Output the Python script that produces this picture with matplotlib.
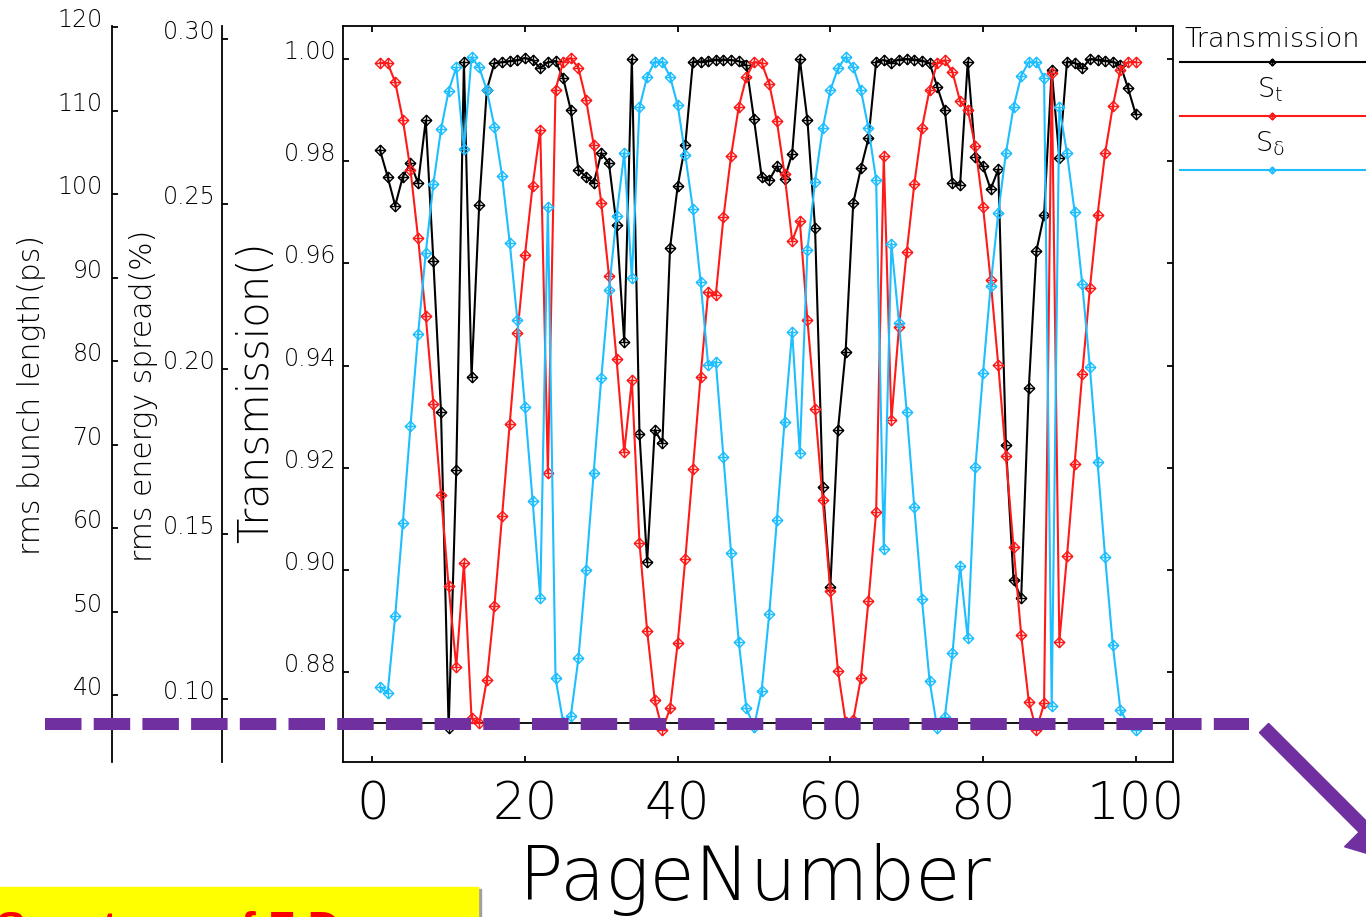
import numpy as np
import matplotlib
matplotlib.use("Agg")
import matplotlib.pyplot as plt
from matplotlib.path import Path
from matplotlib.lines import Line2D
from matplotlib.patches import Rectangle, FancyArrow
from matplotlib.ticker import FixedLocator, FormatStrFormatter
from matplotlib.transforms import IdentityTransform

# ---------------- data ----------------
page = list(range(1, 101))

transmission = [
    0.9822, 0.9770, 0.9713, 0.9770, 0.9796, 0.9757, 0.9880, 0.9605, 0.9310, 0.8690,
    0.9196, 0.9995, 0.9378, 0.9714, 0.9940, 0.9992, 0.9994, 0.9996, 0.9998, 1.0002,
    0.9998, 0.9982, 0.9994, 0.9996, 0.9963, 0.9900, 0.9783, 0.9770, 0.9757, 0.9816,
    0.9796, 0.9675, 0.9447, 1.0000, 0.9266, 0.9016, 0.9274, 0.9248, 0.9630, 0.9751,
    0.9832, 0.9995, 0.9995, 0.9997, 0.9999, 0.9999, 0.9998, 0.9996, 0.9988, 0.9882,
    0.9770, 0.9763, 0.9790, 0.9765, 0.9815, 1.0000, 0.9880, 0.9669, 0.9163, 0.8967,
    0.9274, 0.9427, 0.9718, 0.9786, 0.9845, 0.9995, 0.9998, 0.9993, 0.9999, 1.0000,
    0.9999, 0.9997, 0.9992, 0.9946, 0.9900, 0.9758, 0.9753, 0.9995, 0.9809, 0.9790,
    0.9745, 0.9784, 0.9245, 0.8980, 0.8945, 0.9356, 0.9625, 0.9695, 0.9978, 0.9806,
    0.9995, 0.9993, 0.9982, 1.0000, 0.9999, 0.9997, 0.9995, 0.9988, 0.9943, 0.9892,
]

bunch_length_ps = [
    115.7, 115.7, 113.4, 108.9, 102.9, 94.7, 85.4, 74.9, 64.0, 53.0,
    43.4, 55.8, 37.2, 36.6, 41.8, 50.7, 61.4, 72.5, 83.3, 92.7,
    101.0, 107.7, 66.6, 112.5, 115.8, 116.3, 115.1, 111.3, 105.9, 98.9,
    90.2, 80.2, 69.1, 77.7, 58.2, 47.7, 39.4, 35.8, 38.4, 46.2,
    56.3, 67.1, 78.1, 88.3, 87.9, 97.2, 104.6, 110.4, 114.0, 115.8,
    115.7, 113.2, 108.7, 102.4, 94.4, 96.8, 84.9, 74.3, 63.4, 52.5,
    42.9, 36.8, 37.0, 42.0, 51.3, 61.9, 104.5, 72.9, 84.1, 93.0,
    101.2, 107.9, 112.5, 115.7, 116.0, 114.6, 111.1, 110.1, 105.7, 98.5,
    89.7, 79.5, 68.6, 57.7, 47.2, 39.2, 35.8, 39.0, 114.5, 46.4,
    56.6, 67.7, 78.4, 88.7, 97.5, 104.9, 110.5, 114.9, 115.8, 115.8,
]

energy_spread_pct = [
    0.1037, 0.1017, 0.1252, 0.1534, 0.1827, 0.2106, 0.2352, 0.2561, 0.2726, 0.2843,
    0.2914, 0.2666, 0.2945, 0.2914, 0.2845, 0.2734, 0.2585, 0.2383, 0.2148, 0.1884,
    0.1600, 0.1305, 0.2492, 0.1063, 0.0930, 0.0948, 0.1123, 0.1391, 0.1686, 0.1974,
    0.2239, 0.2464, 0.2655, 0.2275, 0.2793, 0.2886, 0.2931, 0.2931, 0.2886, 0.2800,
    0.2648, 0.2484, 0.2265, 0.2012, 0.2022, 0.1732, 0.1442, 0.1174, 0.0972, 0.0916,
    0.1025, 0.1258, 0.1542, 0.1840, 0.2113, 0.1745, 0.2361, 0.2568, 0.2729, 0.2845,
    0.2911, 0.2945, 0.2914, 0.2845, 0.2729, 0.2573, 0.1454, 0.2379, 0.2139, 0.1871,
    0.1581, 0.1302, 0.1055, 0.0912, 0.0946, 0.1138, 0.1403, 0.1184, 0.1702, 0.1987,
    0.2252, 0.2474, 0.2654, 0.2793, 0.2888, 0.2931, 0.2931, 0.2881, 0.0979, 0.2793,
    0.2654, 0.2477, 0.2258, 0.2005, 0.1719, 0.1429, 0.1164, 0.0967, 0.0924, 0.0906,
]

x_ticks = [0, 20, 40, 60, 80, 100]
trans_ticks = [0.88, 0.90, 0.92, 0.94, 0.96, 0.98, 1.00]
bunch_ticks = [40, 50, 60, 70, 80, 90, 100, 110, 120]
energy_ticks = [0.10, 0.15, 0.20, 0.25, 0.30]
legend_labels = ["Transmission", r"S$_t$", r"S$_\delta$"]
marker_level = 0.8701

# ---------------- figure ----------------
plt.rcParams["lines.scale_dashes"] = False
plt.rcParams["font.family"] = ["DejaVu Sans"]
plt.rcParams["font.weight"] = "light"
plt.rcParams["mathtext.default"] = "regular"

W, H = 1366, 917
fig = plt.figure(figsize=(W / 100, H / 100), dpi=100)


def fx(x):
    return x / W


def fy(y):
    return 1 - y / H


BLACK = "#000000"
RED = "#FF1A1A"
CYAN = "#1EBEFF"
PURPLE = "#7030A0"

L, R, T, B = 343.3, 1172.7, 26, 762
rect = [fx(L), fy(B), (R - L) / W, (B - T) / H]
ax = fig.add_axes(rect)
ax_b = fig.add_axes(rect, sharex=ax)
ax_e = fig.add_axes(rect, sharex=ax)

# diamond-with-cross marker
mverts = [(0, 1), (1, 0), (0, -1), (-1, 0), (0, 1), (-1, 0), (1, 0), (0, -1), (0, 1)]
mcodes = [Path.MOVETO, Path.LINETO, Path.LINETO, Path.LINETO, Path.CLOSEPOLY,
          Path.MOVETO, Path.LINETO, Path.MOVETO, Path.LINETO]
dmark = Path(mverts, mcodes)

lw = 1.5
ax.plot(page, transmission, color=BLACK, lw=lw, marker=dmark, ms=7.5,
        mfc="none", mec=BLACK, mew=1.0)
ax.axhline(marker_level, color=BLACK, lw=1.3)
ax_b.plot(page, bunch_length_ps, color=RED, lw=lw, marker=dmark, ms=7.5,
          mfc="none", mec=RED, mew=1.0)
ax_e.plot(page, energy_spread_pct, color=CYAN, lw=lw, marker=dmark, ms=7.5,
          mfc="none", mec=CYAN, mew=1.0)

ax.set_xlim(-3.80, 104.85)
ax.set_ylim(0.86243, 1.00646)
ax_b.set_ylim(31.98, 120.12)
ax_e.set_ylim(0.08091, 0.30394)

tick_len = 6 * 0.72
spw = 1.3
for s in ax.spines.values():
    s.set_linewidth(spw)

ax.xaxis.set_major_locator(FixedLocator(x_ticks))
ax.yaxis.set_major_locator(FixedLocator(trans_ticks))
ax.yaxis.set_major_formatter(FormatStrFormatter("%.2f"))
ax.tick_params(axis="x", direction="in", length=tick_len, width=spw, top=True,
               labelsize=37, pad=13)
ax.tick_params(axis="y", direction="in", length=tick_len, width=spw, right=True,
               labelsize=17, pad=5)

for a, pos, ticks, fmt, pad in [
    (ax_b, (111.7 - L) / (R - L), bunch_ticks, "%d", 6.5),
    (ax_e, (222.3 - L) / (R - L), energy_ticks, "%.2f", 5),
]:
    a.patch.set_visible(False)
    for k in ("right", "top", "bottom"):
        a.spines[k].set_visible(False)
    a.spines["left"].set_position(("axes", pos))
    a.spines["left"].set_linewidth(spw)
    a.xaxis.set_visible(False)
    a.yaxis.set_ticks_position("left")
    a.yaxis.set_major_locator(FixedLocator(ticks))
    a.yaxis.set_major_formatter(FormatStrFormatter(fmt))
    a.tick_params(axis="y", direction="in", length=tick_len, width=spw,
                  labelsize=17, pad=pad)

for a in (ax, ax_b, ax_e):
    for t in a.yaxis.get_major_ticks():
        t.label1.set_verticalalignment("baseline")

# axis titles
fig.text(fx(755), fy(900), "PageNumber", fontsize=53, ha="center", va="baseline")
fig.text(fx(256), fy(392), "Transmission()", fontsize=30, rotation=90,
         ha="center", va="center")
fig.text(fx(32), fy(395), "rms bunch length(ps)", fontsize=21.5, rotation=90,
         ha="center", va="center")
fig.text(fx(144), fy(396), "rms energy spread(%)", fontsize=21.5, rotation=90,
         ha="center", va="center")

# legend (outside, right)
leg_colors = [BLACK, RED, CYAN]
leg_line_y = [61.7, 115.7, 169.7]
leg_text_pos = [(1184, 47, "left"), (1270, 98, "center"), (1270, 152, "center")]
for lab, col, ly, (tx, ty, ha) in zip(legend_labels, leg_colors, leg_line_y, leg_text_pos):
    fig.add_artist(Line2D([fx(1180), fx(1366)], [fy(ly), fy(ly)], color=col, lw=1.5,
                          transform=fig.transFigure))
    fig.add_artist(Line2D([fx(1272)], [fy(ly)], color=col, marker=dmark, ms=5,
                          mfc="none", mec=col, mew=1.0, transform=fig.transFigure))
    fig.text(fx(tx), fy(ty), lab, fontsize=19.5, ha=ha, va="baseline")

# purple dashed annotation line and arrow
dash = Line2D([fx(45), fx(1248.5)], [fy(724), fy(724)], color=PURPLE, lw=12 * 0.72,
              linestyle=(0, (36.5 * 0.72, 12.2 * 0.72)),
              dash_capstyle="butt", transform=fig.transFigure)
fig.add_artist(dash)

arrow = FancyArrow(1264, H - 728, 135, -135, width=13, head_width=54,
                   head_length=50, length_includes_head=True, color=PURPLE,
                   transform=IdentityTransform())
fig.add_artist(arrow)

# yellow caption box at the bottom-left (cut off by the image edge)
fig.add_artist(Rectangle((fx(3), 0), fx(478), fy(889), color="#A0A0A0",
                         transform=fig.transFigure, zorder=0.9))
fig.add_artist(Rectangle((0, 0), fx(478), fy(887), color="#FFFF00",
                         transform=fig.transFigure, zorder=1))
fig.text(fx(-4), fy(943), "Spectrum of Z D", color="red", fontsize=32,
         fontweight="bold", family="Liberation Sans", va="baseline", zorder=2)

fig.savefig("out.png", dpi=100)
